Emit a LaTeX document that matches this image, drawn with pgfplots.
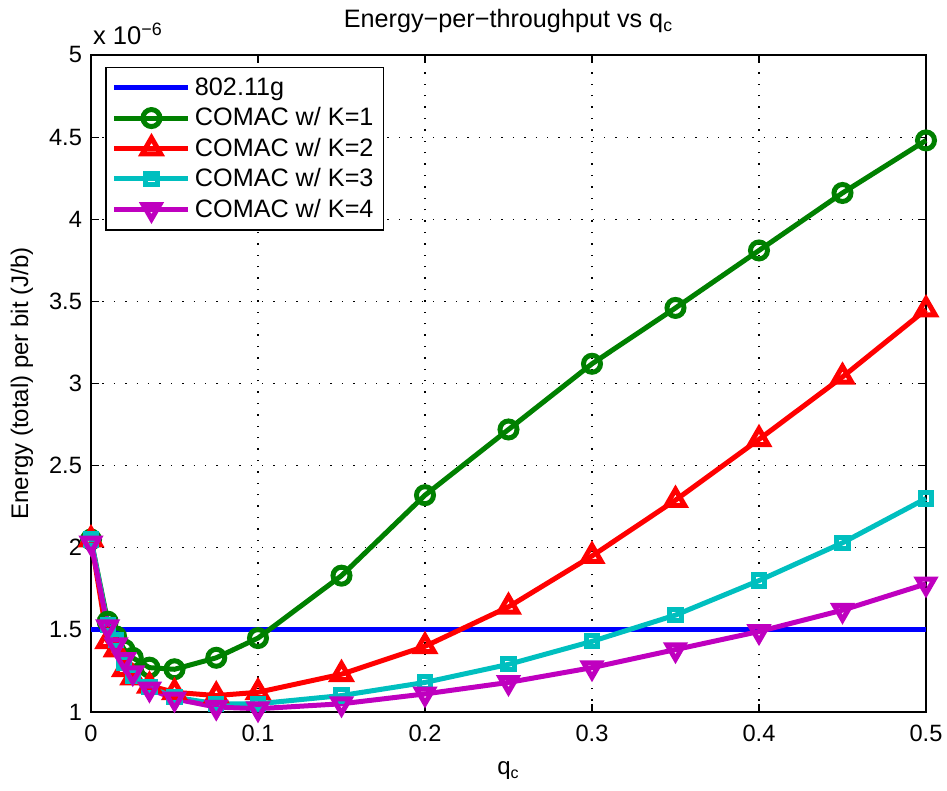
\documentclass[border=0pt]{standalone}
\usepackage{fontspec}
\setmainfont{Liberation Sans}
\usepackage{pgfplots}
\pgfplotsset{compat=1.18}
\definecolor{mgreen}{rgb}{0,0.5,0}
\definecolor{mcyan}{rgb}{0,0.75,0.75}
\definecolor{mmag}{rgb}{0.75,0,0.75}
\begin{document}
\begin{tikzpicture}
\useasboundingbox (-45.5pt,-39.5pt) rectangle (428pt,356pt);
\begin{axis}[
  at={(0,0)}, anchor=south west,
  scale only axis, width=417.5pt, height=328.5pt,
  xmin=0, xmax=0.5, ymin=1, ymax=5,
  xtick={0,0.1,0.2,0.3,0.4,0.5},
  ytick={1,1.5,2,2.5,3,3.5,4,4.5,5},
  scaled ticks=false,
  /pgf/number format/assume math mode=true,
  /pgf/number format/fixed,
  tick align=inside, tick pos=both,
  major tick length=4pt,
  tick style={black, line width=0.6pt},
  grid=major,
  major grid style={black, line width=0.6pt, dash pattern=on 0.7pt off 5pt},
  axis line style={black, line width=0.9pt},
  ticklabel style={font=\fontsize{11.8}{14}\selectfont},
  xticklabel style={yshift=-3pt},
  yticklabel style={xshift=-1pt},
  label style={font=\fontsize{12}{14}\selectfont},
  xlabel={q\textsubscript{c}},
  xlabel style={at={(axis description cs:0.5,0)}, anchor=base, yshift=-31.5pt},
  ylabel={Energy (total) per bit (J/b)},
  ylabel style={at={(axis description cs:-0.0826,0.5)}, anchor=center},
  title={Energy−per−throughput vs q\textsubscript{c}},
  title style={at={(axis description cs:0.5,1)}, anchor=base, yshift=7.5pt, font=\fontsize{12.6}{14}\selectfont},
  legend style={at={(axis description cs:0.017,0.982)}, anchor=north west,
    draw=black, line width=0.8pt, fill=white,
    font=\fontsize{12.6}{14}\selectfont, row sep=0.6pt, inner sep=3pt},
  legend cell align=left,
  legend image code/.code={\draw[mark repeat=2,mark phase=2] plot coordinates {(0cm,0cm) (0.65cm,0cm) (1.3cm,0cm)};},
  every axis plot/.append style={line width=2.5pt},
  clip=false,
]
\addplot[blue, no marks] coordinates {(0,1.5) (0.5,1.5)};
\addlegendentry{802.11g}
\addplot[mgreen, mark=o, mark size=4.25pt, mark options={solid, fill=none}] coordinates {
(0,2.05) (0.01,1.55) (0.015,1.46) (0.02,1.38) (0.025,1.33) (0.035,1.27) (0.05,1.26) (0.075,1.33) (0.1,1.45) (0.15,1.83) (0.2,2.32) (0.25,2.72) (0.3,3.12) (0.35,3.46) (0.4,3.81) (0.45,4.16) (0.5,4.48)};
\addlegendentry{COMAC w/ K=1}
\addplot[red, mark=triangle, mark size=5.3pt, mark options={solid, fill=none}] coordinates {
(0,2.05) (0.01,1.43) (0.015,1.38) (0.02,1.26) (0.025,1.21) (0.035,1.16) (0.05,1.12) (0.075,1.10) (0.1,1.12) (0.15,1.23) (0.2,1.40) (0.25,1.64) (0.3,1.95) (0.35,2.29) (0.4,2.66) (0.45,3.04) (0.5,3.45)};
\addlegendentry{COMAC w/ K=2}
\addplot[mcyan, mark=square, mark size=2.8pt, mark options={solid, fill=none}] coordinates {
(0,2.05) (0.01,1.53) (0.015,1.44) (0.02,1.30) (0.025,1.22) (0.035,1.15) (0.05,1.09) (0.075,1.05) (0.1,1.05) (0.15,1.10) (0.2,1.18) (0.25,1.29) (0.3,1.43) (0.35,1.59) (0.4,1.80) (0.45,2.03) (0.5,2.30)};
\addlegendentry{COMAC w/ K=3}
\addplot[mmag, mark=triangle, mark size=4.8pt, mark options={solid, fill=none, rotate=180}] coordinates {
(0,2.03) (0.01,1.52) (0.015,1.41) (0.02,1.32) (0.025,1.24) (0.035,1.14) (0.05,1.08) (0.075,1.03) (0.1,1.02) (0.15,1.05) (0.2,1.11) (0.25,1.18) (0.3,1.27) (0.35,1.38) (0.4,1.49) (0.45,1.62) (0.5,1.78)};
\addlegendentry{COMAC w/ K=4}
\node[anchor=base west, inner sep=0pt, font=\fontsize{12.8}{14}\selectfont] at (axis description cs:0.002,1.016) {x 10\textsuperscript{−6}};
\end{axis}
\end{tikzpicture}
\end{document}
